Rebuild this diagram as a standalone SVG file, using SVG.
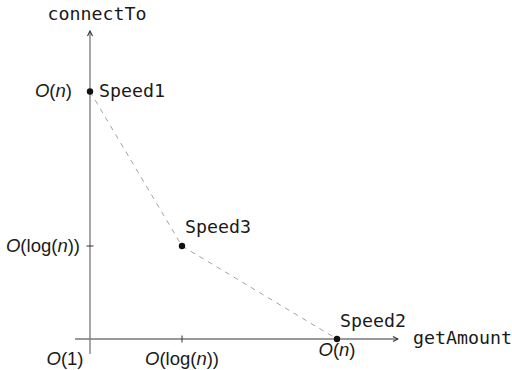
<svg xmlns="http://www.w3.org/2000/svg" width="512" height="370" viewBox="0 0 512 370">
<defs>
<style>
.axis{stroke:#777;stroke-width:1.3;fill:none}
.tick{stroke:#333;stroke-width:1;fill:none}
.dash{stroke:#999;stroke-width:0.9;stroke-dasharray:5,5;fill:none}
.mono{font-family:"DejaVu Sans Mono",monospace;font-size:18.3px;fill:#1a1a1a}
.math{font-family:"Liberation Sans",Arial,sans-serif;font-size:18.5px;fill:#1a1a1a}
.pt{fill:#111}
</style>
<marker id="arr" viewBox="0 0 8 8" refX="7" refY="4" markerWidth="8" markerHeight="8" markerUnits="userSpaceOnUse" orient="auto">
<path d="M2,1.5 L7,4 L2,6.5" fill="none" stroke="#333" stroke-width="1.1"/>
</marker>
</defs>
<rect width="512" height="370" fill="#fff"/>
<g id="axes">
<line class="axis" x1="90" y1="354" x2="90" y2="31" marker-end="url(#arr)"/>
<line class="axis" x1="75" y1="339" x2="398" y2="339" marker-end="url(#arr)"/>
<line class="tick" x1="86.5" y1="246" x2="93.5" y2="246"/>
<line class="tick" x1="182" y1="335.5" x2="182" y2="342.5"/>
<text class="mono" x="97" y="20" text-anchor="middle">connectTo</text>
<text class="mono" x="413" y="344">getAmount</text>
<text class="math" x="72" y="97" text-anchor="end"><tspan font-style="italic">O</tspan>(<tspan font-style="italic">n</tspan>)</text>
<text class="math" x="80" y="252" text-anchor="end"><tspan font-style="italic">O</tspan>(log(<tspan font-style="italic">n</tspan>))</text>
<text class="math" x="65" y="365" text-anchor="middle"><tspan font-style="italic">O</tspan>(1)</text>
<text class="math" x="182" y="365" text-anchor="middle"><tspan font-style="italic">O</tspan>(log(<tspan font-style="italic">n</tspan>))</text>
<text class="math" x="337" y="356" text-anchor="middle"><tspan font-style="italic">O</tspan>(<tspan font-style="italic">n</tspan>)</text>
</g>
<g id="connectors">
<path class="dash" d="M90,91.5 L182,246 L337,339"/>
</g>
<g id="speed1">
<circle class="pt" cx="90" cy="91.5" r="3.2"/>
<text class="mono" x="99" y="97">Speed1</text>
</g>
<g id="speed3">
<circle class="pt" cx="182" cy="246" r="3.2"/>
<text class="mono" x="185" y="233">Speed3</text>
</g>
<g id="speed2">
<circle class="pt" cx="337" cy="339" r="3.2"/>
<text class="mono" x="340" y="327">Speed2</text>
</g>
</svg>
